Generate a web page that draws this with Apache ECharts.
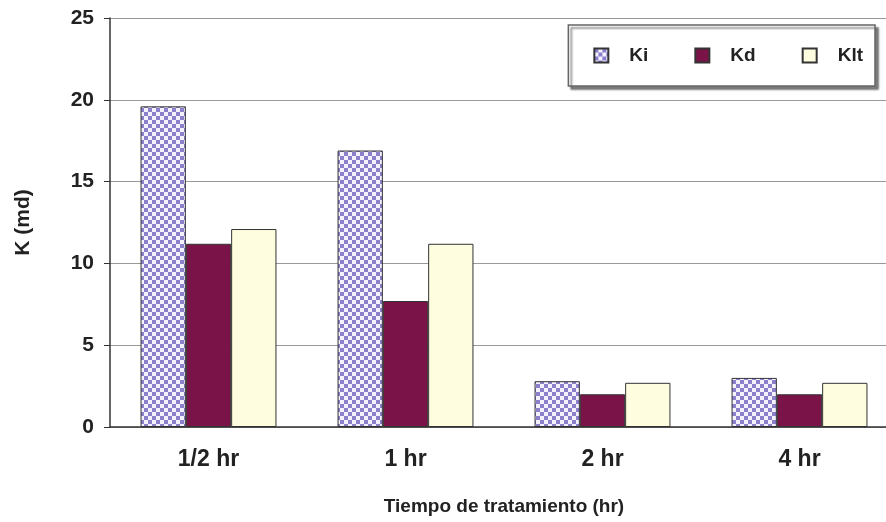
<!DOCTYPE html>
<html>
<head>
<meta charset="UTF-8">
<script src="https://cdn.jsdelivr.net/npm/echarts@6/dist/echarts.min.js"></script>
<style>
  html, body { margin: 0; padding: 0; background: #fff; }
  #chart { width: 886px; height: 522px; }
</style>
</head>
<body>
<div id="chart"></div>
<script>
  var categories = ['1/2 hr', '1 hr', '2 hr', '4 hr'];
  var ki = [19.6, 16.9, 2.8, 3.0];
  var kd = [11.2, 7.7, 2.0, 2.0];
  var klt = [12.1, 11.2, 2.7, 2.7];

  // checkered fill for Ki
  var pat = document.createElement('canvas');
  pat.width = 8; pat.height = 8;
  var ctx = pat.getContext('2d');
  ctx.fillStyle = '#f4f2ff';
  ctx.fillRect(0, 0, 8, 8);
  ctx.fillStyle = '#8c80cc';
  ctx.fillRect(0, 0, 4, 4);
  ctx.fillRect(4, 4, 4, 4);

  var font = 'Liberation Sans, Arial, sans-serif';
  var chart = echarts.init(document.getElementById('chart'));
  chart.setOption({
    animation: false,
    backgroundColor: '#fff',
    grid: { left: 110, right: -12, top: 18, bottom: 95, outerBoundsMode: 'none' },
    legend: {
      right: 11, top: 25,
      icon: 'rect',
      itemWidth: 14, itemHeight: 14, itemGap: 46,
      padding: [21, 12, 21, 25],
      borderColor: '#666', borderWidth: 1.5,
      shadowColor: 'rgba(0,0,0,0.5)', shadowOffsetX: 3, shadowOffsetY: 3, shadowBlur: 2,
      backgroundColor: '#fff',
      textStyle: { fontFamily: font, fontWeight: 'bold', fontSize: 19, color: '#222', padding: [0, 0, 0, 16] },
      data: ['Ki', 'Kd', 'Klt']
    },
    xAxis: {
      type: 'category',
      data: categories,
      name: 'Tiempo de tratamiento (hr)',
      nameLocation: 'middle', nameGap: 70,
      nameTextStyle: { fontFamily: font, fontWeight: 'bold', fontSize: 19, color: '#222' },
      axisLine: { lineStyle: { color: '#333', width: 1.5 } },
      axisTick: { lineStyle: { color: '#333' }, length: 6 },
      axisLabel: { fontFamily: font, fontWeight: 'bold', fontSize: 23, color: '#222', margin: 21 }
    },
    yAxis: {
      type: 'value', min: 0, max: 25, interval: 5,
      name: 'K (md)',
      nameLocation: 'middle', nameGap: 76,
      nameTextStyle: { fontFamily: font, fontWeight: 'bold', fontSize: 21, color: '#222' },
      axisLine: { show: true, lineStyle: { color: '#333', width: 1.5 } },
      axisTick: { show: true, inside: false, length: 6, lineStyle: { color: '#333' } },
      axisLabel: { fontFamily: font, fontWeight: 'bold', fontSize: 21, color: '#222', margin: 16, padding: [0, 0, 8, 0] },
      splitLine: { lineStyle: { color: '#999', width: 1.2 } }
    },
    series: [
      { name: 'Ki', type: 'bar', data: ki, barGap: '0%', barCategoryGap: '31%',
        itemStyle: { color: { image: pat, repeat: 'repeat' }, borderColor: '#333', borderWidth: 1 } },
      { name: 'Kd', type: 'bar', data: kd,
        itemStyle: { color: '#7a1448', borderColor: '#333', borderWidth: 1 } },
      { name: 'Klt', type: 'bar', data: klt,
        itemStyle: { color: '#fffde0', borderColor: '#333', borderWidth: 1 } }
    ]
  });
</script>
</body>
</html>
